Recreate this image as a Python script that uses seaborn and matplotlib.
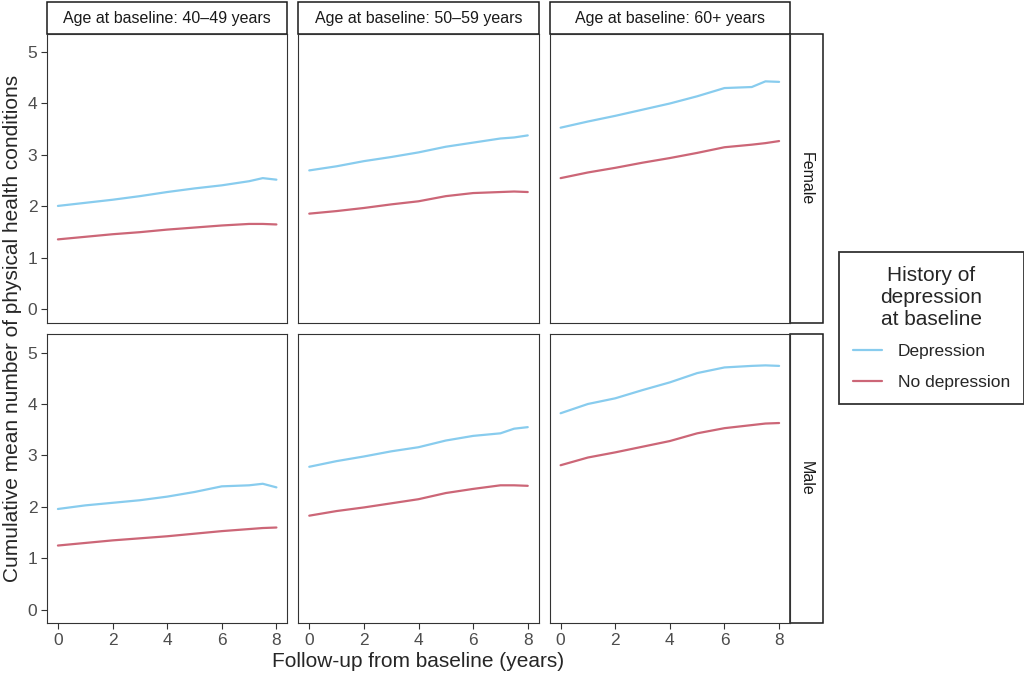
import matplotlib
matplotlib.use("Agg")
import matplotlib.pyplot as plt
import seaborn as sns
import pandas as pd
from matplotlib.patches import Rectangle
from matplotlib.lines import Line2D

# values
years = [0, 1, 2, 3, 4, 5, 6, 7, 7.5, 8]
sexes = ["Female", "Male"]
ages = ["Age at baseline: 40–49 years", "Age at baseline: 50–59 years", "Age at baseline: 60+ years"]
groups = ["Depression", "No depression"]

f40_dep = [2.01, 2.07, 2.13, 2.20, 2.28, 2.35, 2.41, 2.49, 2.55, 2.52]
f40_nodep = [1.36, 1.41, 1.46, 1.50, 1.55, 1.59, 1.63, 1.66, 1.66, 1.65]
f50_dep = [2.70, 2.78, 2.88, 2.96, 3.05, 3.16, 3.24, 3.32, 3.34, 3.38]
f50_nodep = [1.86, 1.91, 1.97, 2.04, 2.10, 2.20, 2.26, 2.28, 2.29, 2.28]
f60_dep = [3.53, 3.65, 3.76, 3.88, 4.00, 4.14, 4.30, 4.32, 4.43, 4.42]
f60_nodep = [2.55, 2.66, 2.75, 2.85, 2.94, 3.04, 3.15, 3.20, 3.23, 3.27]
m40_dep = [1.96, 2.03, 2.08, 2.13, 2.20, 2.29, 2.40, 2.42, 2.45, 2.38]
m40_nodep = [1.25, 1.30, 1.35, 1.39, 1.43, 1.48, 1.53, 1.57, 1.59, 1.60]
m50_dep = [2.78, 2.89, 2.98, 3.08, 3.16, 3.29, 3.38, 3.43, 3.52, 3.55]
m50_nodep = [1.83, 1.92, 1.99, 2.07, 2.15, 2.27, 2.35, 2.42, 2.42, 2.41]
m60_dep = [3.82, 4.00, 4.11, 4.27, 4.42, 4.60, 4.71, 4.74, 4.75, 4.74]
m60_nodep = [2.81, 2.96, 3.06, 3.17, 3.28, 3.43, 3.53, 3.59, 3.62, 3.63]

series = {
    ("Female", ages[0]): (f40_dep, f40_nodep),
    ("Female", ages[1]): (f50_dep, f50_nodep),
    ("Female", ages[2]): (f60_dep, f60_nodep),
    ("Male", ages[0]): (m40_dep, m40_nodep),
    ("Male", ages[1]): (m50_dep, m50_nodep),
    ("Male", ages[2]): (m60_dep, m60_nodep),
}

rows = []
for (sex, age), (dep, nodep) in series.items():
    for grp, vals in zip(groups, (dep, nodep)):
        for t, v in zip(years, vals):
            rows.append({"sex": sex, "age": age, "group": grp, "years": t, "value": v})
df = pd.DataFrame(rows)

palette = {"Depression": "#88CCEE", "No depression": "#CC6677"}

sns.set_style("white")
plt.rcParams["font.family"] = ["Liberation Sans", "DejaVu Sans"]

g = sns.relplot(
    data=df, x="years", y="value", hue="group", row="sex", col="age",
    row_order=sexes, col_order=ages, hue_order=groups, kind="line",
    palette=palette, legend=False, linewidth=1.6, height=3, aspect=0.85,
    facet_kws=dict(sharex=True, sharey=True),
)
fig = g.figure
fig.set_size_inches(10.24, 6.76)
fig.subplots_adjust(left=0.0459, right=0.7715, top=0.9497, bottom=0.0784,
                    wspace=11 / 240, hspace=12 / 289)
g.set_titles("")
g.set_axis_labels("", "")
g.set(xlim=(-0.4, 8.4), ylim=(-0.255, 5.35), xticks=[0, 2, 4, 6, 8], yticks=[0, 1, 2, 3, 4, 5])

for i, sex in enumerate(sexes):
    for j, age in enumerate(ages):
        ax = g.axes[i, j]
        for s in ax.spines.values():
            s.set_visible(True)
            s.set_color("#333333")
            s.set_linewidth(0.8)
        ax.tick_params(bottom=(i == len(sexes) - 1), left=(j == 0), direction="out",
                       length=4, width=0.8, color="#333333", labelcolor="#4D4D4D",
                       labelsize=12.5, pad=3)
        if i == 0:
            h = 32 / 289
            ax.add_patch(Rectangle((0, 1), 1, h, transform=ax.transAxes, clip_on=False,
                                   facecolor="white", edgecolor="#1a1a1a", linewidth=1.1))
            ax.text(0.5, 1 + h / 2, age, transform=ax.transAxes, ha="center", va="center",
                    fontsize=11.5, color="#1a1a1a")
        if j == len(ages) - 1:
            w = 33 / 241
            ax.add_patch(Rectangle((1, 0), w, 1, transform=ax.transAxes, clip_on=False,
                                   facecolor="white", edgecolor="#1a1a1a", linewidth=1.1))
            ax.text(1 + w / 2, 0.5, sex, transform=ax.transAxes, ha="center", va="center",
                    rotation=-90, fontsize=11.5, color="#1a1a1a")

fig.text(0.012, 0.514, "Cumulative mean number of physical health conditions",
         rotation=90, ha="center", va="center", fontsize=15)
fig.text(0.4087, 0.021, "Follow-up from baseline (years)", ha="center", va="center", fontsize=15)

handles = [Line2D([], [], color=palette[k], linewidth=1.6) for k in groups]
leg = fig.legend(handles, groups, title="History of\ndepression\nat baseline",
                 loc="center", bbox_to_anchor=(0.9097, 0.5148), fontsize=12.5,
                 title_fontsize=15, frameon=True, fancybox=False, handlelength=1.7,
                 borderpad=0.8, labelspacing=0.9, handletextpad=0.9)
leg.get_frame().set_edgecolor("black")
leg.get_frame().set_linewidth(1.3)
leg.get_title().set_multialignment("center")

fig.savefig("out.png", dpi=100)
